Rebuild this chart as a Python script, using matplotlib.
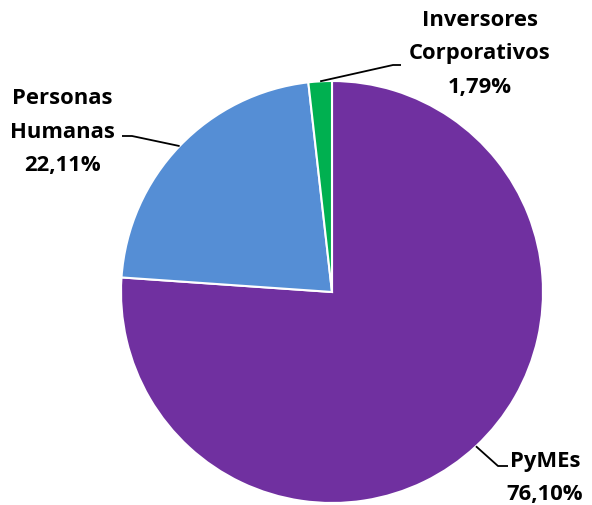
import numpy as np
import matplotlib
matplotlib.use("Agg")
import matplotlib.pyplot as plt

categories = ["PyMEs", "Personas Humanas", "Inversores Corporativos"]
values = [76.10, 22.11, 1.79]
label_texts = ["PyMEs\n76,10%", "Personas\nHumanas\n22,11%", "Inversores\nCorporativos\n1,79%"]
colors = ["#7030A0", "#558ED5", "#00B050"]

W, H = 592, 506
fig = plt.figure(figsize=(W / 100, H / 100), dpi=100)
ax = fig.add_axes([0, 0, 1, 1])
R = 211.0
cx, cy = 332.0, 293.0

def px(x, y):
    return ((x - cx) / R, (cy - y) / R)

wedges, _ = ax.pie(values, colors=colors, startangle=90, counterclock=False,
                   radius=1.0, wedgeprops=dict(edgecolor="white", linewidth=1.5))

ax.set_xlim(-cx / R, (W - cx) / R)
ax.set_ylim(-(H - cy) / R, cy / R)
ax.set_aspect("equal", adjustable="datalim")
ax.axis("off")

# label layout (pixel positions of leader elbow/end and text centers)
elbows = [(498, 467), (132, 137), (393, 66)]
ends = [(508, 467), (122, 137), (401, 66)]
text_pos = [(545, 478), (62, 132), (480, 54)]
for w, lab, el, en, tp in zip(wedges, label_texts, elbows, ends, text_pos):
    ang = np.deg2rad((w.theta1 + w.theta2) / 2)
    x0, y0 = np.cos(ang), np.sin(ang)
    e = px(*el)
    n = px(*en)
    ax.plot([x0, e[0], n[0]], [y0, e[1], n[1]], color="black", lw=1.3,
            solid_capstyle="butt")
    t = px(*tp)
    ax.text(t[0], t[1], lab, ha="center", va="center", fontsize=15.8,
            fontweight="bold", family=["Open Sans", "DejaVu Sans"], linespacing=1.75,
            color="black")

fig.savefig("out.png", dpi=100)
